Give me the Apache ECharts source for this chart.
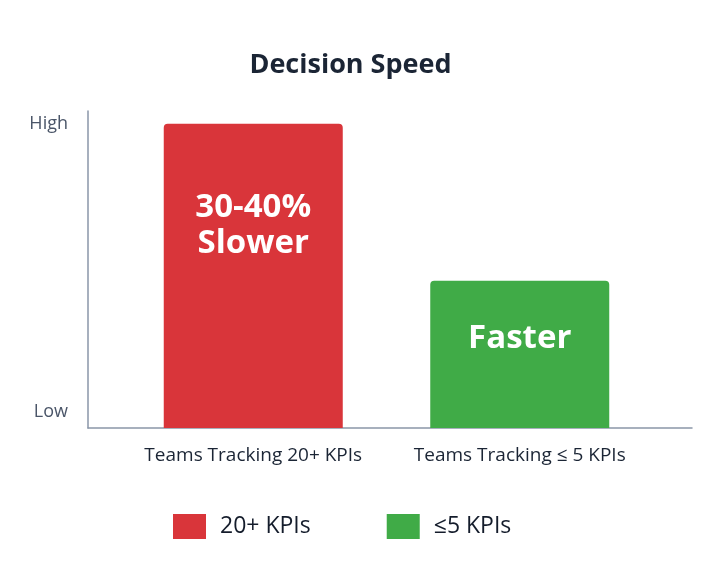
<!DOCTYPE html>
<html>
<head>
<meta charset="utf-8">
<script src="https://cdn.jsdelivr.net/npm/echarts@6/dist/echarts.min.js"></script>
<style>
  html, body { margin: 0; padding: 0; background: #fff; }
  #chart { width: 701px; height: 562px; }
</style>
</head>
<body>
<div id="chart"></div>
<script>
// data
var categories = ['Teams Tracking 20+ KPIs', 'Teams Tracking \u2264 5 KPIs'];
var seriesNames = ['20+ KPIs', '\u22645 KPIs'];
var speedValues = [95, 46];
var barTexts = ['30-40%\nSlower', 'Faster'];
var levelLabels = { 5: 'Low', 95: 'High' };

var colors = ['#d9353a', '#40ab47'];
var labelOffsets = [[0, -50], [0, -16]];
var font = '"Open Sans", "Noto Sans", sans-serif';

var buildSeries = function (i) {
    var data = [];
    for (var k = 0; k < categories.length; k++) {
        data.push(k === i ? speedValues[k] : '-');
    }
    return {
        name: seriesNames[i],
        type: 'bar',
        xAxisIndex: 1,
        yAxisIndex: 1,
        barWidth: 179,
        barGap: '-100%',
        itemStyle: { color: colors[i], borderRadius: [4, 4, 0, 0] },
        label: {
            show: true,
            position: 'inside',
            offset: labelOffsets[i],
            formatter: barTexts[i],
            color: '#fff',
            fontFamily: font,
            fontWeight: 'bold',
            fontSize: 33,
            lineHeight: 36
        },
        data: data
    };
};

var option = {
    backgroundColor: '#fff',
    animation: false,
    title: {
        text: 'Decision Speed',
        left: 'center',
        top: 47,
        textStyle: { fontFamily: font, fontWeight: 'bold', fontSize: 27, color: '#1b2535' }
    },
    legend: {
        bottom: 18,
        left: 168,
        itemWidth: 33,
        itemHeight: 25,
        itemGap: 76,
        icon: 'rect',
        textStyle: { fontFamily: font, fontSize: 23, fontWeight: 500, color: '#141c2b', padding: [0, 0, 0, 9] },
        data: seriesNames
    },
    grid: [
        { left: 88, right: 9, top: 111, bottom: 134 },
        { left: 120, right: 48, top: 111, bottom: 134 }
    ],
    xAxis: [
        {
            type: 'category', gridIndex: 0, data: categories,
            axisLine: { lineStyle: { color: '#8a96a8', width: 1.5 } },
            axisTick: { show: false }, axisLabel: { show: false }
        },
        {
            type: 'category', gridIndex: 1, data: categories,
            axisLine: { show: false }, axisTick: { show: false },
            axisLabel: { interval: 0, margin: 18, fontFamily: font, fontSize: 19, color: '#1b2535' }
        }
    ],
    yAxis: [
        {
            type: 'value', gridIndex: 0, min: 0, max: 99, interval: 1,
            axisLine: { show: true, lineStyle: { color: '#8a96a8', width: 1.5 } },
            axisTick: { show: false },
            splitLine: { show: false },
            axisLabel: {
                margin: 20, fontFamily: font, fontSize: 18, color: '#4a5568',
                formatter: function (v) { return levelLabels[v] || ''; }
            }
        },
        {
            type: 'value', gridIndex: 1, min: 0, max: 99, show: false
        }
    ],
    series: [buildSeries(0), buildSeries(1)]
};

var chart = echarts.init(document.getElementById('chart'));
chart.setOption(option);
</script>
</body>
</html>
